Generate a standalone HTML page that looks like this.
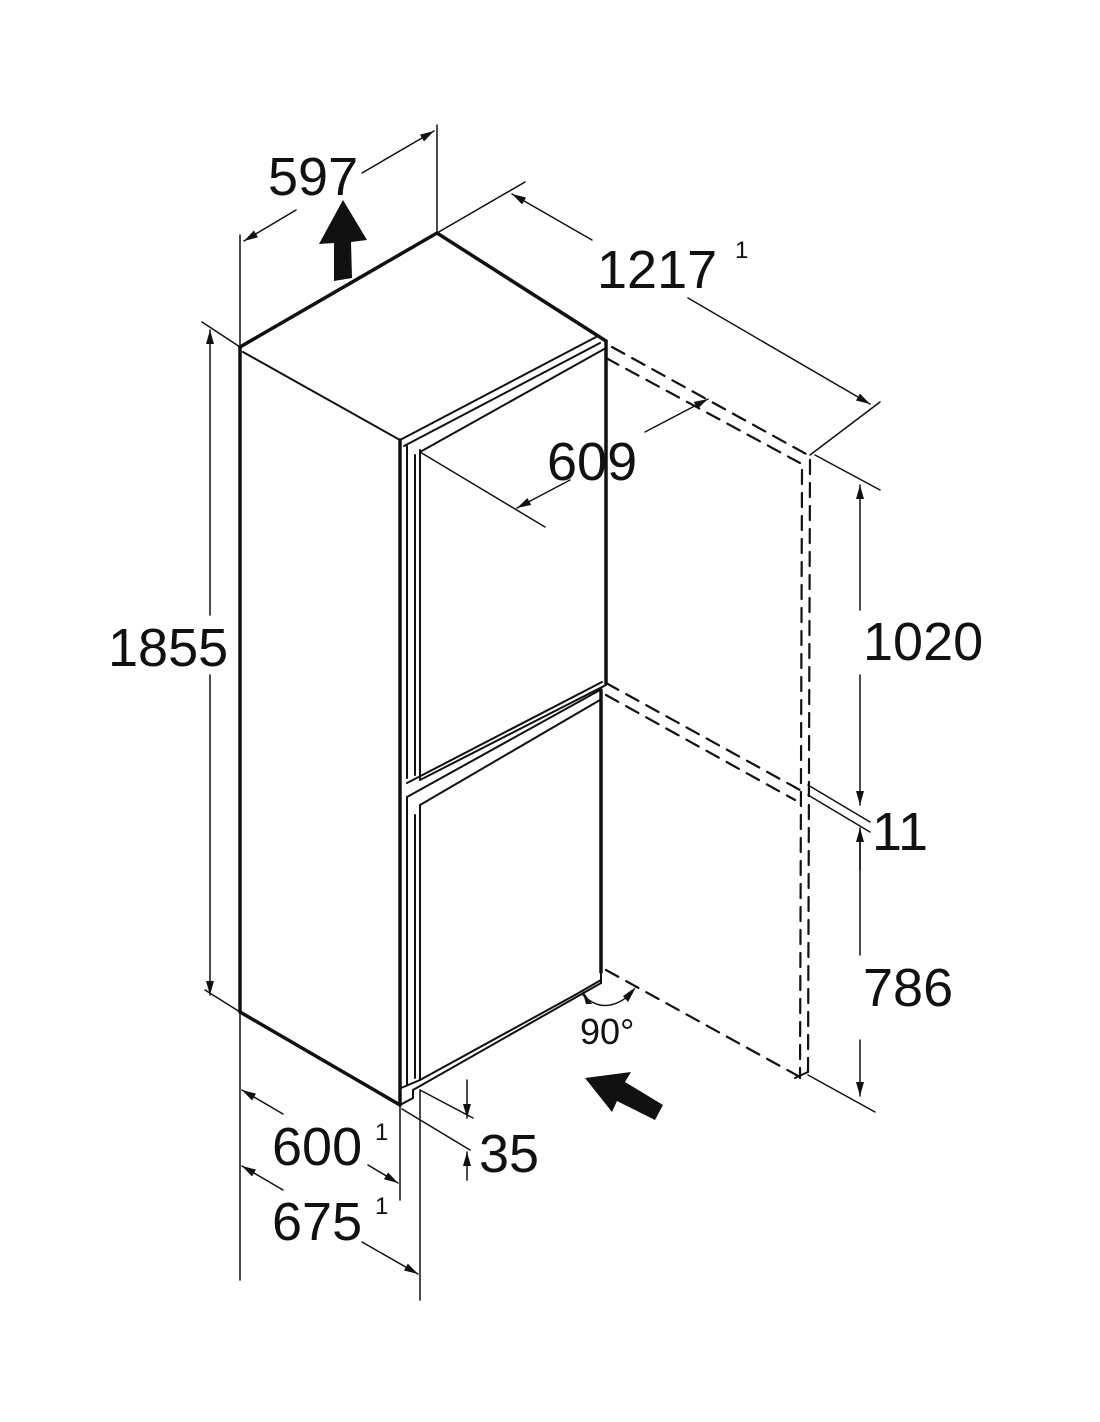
<!DOCTYPE html>
<html><head><style>
html,body{margin:0;padding:0;background:#fff;}
svg{display:block;}
text{font-family:"Liberation Sans",sans-serif;fill:#111;}
</style></head><body>
<svg width="1100" height="1422" viewBox="0 0 1100 1422" xmlns="http://www.w3.org/2000/svg">
<defs>
<marker id="a" markerWidth="14" markerHeight="8" refX="14" refY="4" orient="auto" markerUnits="userSpaceOnUse">
<path d="M0,0 L14,4 L0,8 Z" fill="#111"/></marker>
</defs>
<g stroke="#111" fill="none" stroke-linecap="round">
<g stroke-width="3.5">
<path d="M240,347 L437,233 L606,341"/>
<path d="M240,347 L240,1012 L400,1105"/>
<path d="M606,341 L606,683"/>
<path d="M601,690 L601,972"/>
<path d="M400,440 L400,1105"/>
</g>
<g stroke-width="2">
<path d="M243,352 L400,440"/>
<path d="M400,440 L596,337"/>
<path d="M404,446 L600,343"/>
<path d="M420,452 L606,348"/>
<path d="M407,446 L407,778"/>
<path d="M420,450 L420,780"/>
<path d="M415,455 L415,775"/>
<path d="M407,783 L602,682"/>
<path d="M420,780 L606,685"/>
<path d="M407,797 L600,690"/>
<path d="M420,805 L600,700"/>
<path d="M407,797 L407,1085"/>
<path d="M420,805 L420,1080"/>
<path d="M415,815 L415,1078"/>
<path d="M400,1105 L413,1098 L413,1090 L420,1086 L601,983 L601,972"/>
<path d="M420,1080 L575,995 L601,980"/>
<path d="M401,1088 L420,1080"/>
</g>
<g stroke-width="2.2" stroke-dasharray="14,9">
<path d="M612,347 L808,455"/>
<path d="M606,358 L800,463"/>
<path d="M606,683 L800,790"/>
<path d="M606,695 L795,800"/>
<path d="M606,970 L800,1077"/>
<path d="M802,470 L800,1078"/>
<path d="M810,460 L808,1078"/>
</g>
<path d="M795,1078 L808,1072" stroke-width="2"/>
<g stroke-width="1.5">
<path d="M240,235 L240,347"/>
<path d="M437,125 L437,233"/>
<path d="M296,210 L244,241" marker-end="url(#a)"/>
<path d="M362,173 L434,131" marker-end="url(#a)"/>
<path d="M437,233 L525,182"/>
<path d="M592,240 L512,194" marker-end="url(#a)"/>
<path d="M688,298 L870,404" marker-end="url(#a)"/>
<path d="M810,455 L880,402"/>
<path d="M420,452 L545,527"/>
<path d="M570,480 L517,508" marker-end="url(#a)"/>
<path d="M645,432 L708,399" marker-end="url(#a)"/>
<path d="M202,322 L240,347"/>
<path d="M205,990 L240,1012"/>
<path d="M210,615 L210,330" marker-end="url(#a)"/>
<path d="M210,675 L210,995" marker-end="url(#a)"/>
<path d="M815,455 L880,490"/>
<path d="M860,610 L860,485" marker-end="url(#a)"/>
<path d="M860,675 L860,805" marker-end="url(#a)"/>
<path d="M808,785 L870,822"/>
<path d="M808,795 L870,832"/>
<path d="M860,870 L860,828" marker-end="url(#a)"/>
<path d="M860,1040 L860,1096" marker-end="url(#a)"/>
<path d="M860,955 L860,830"/>
<path d="M808,1075 L875,1112"/>
<path d="M240,1012 L240,1280"/>
<path d="M400,1105 L400,1200"/>
<path d="M420,1090 L420,1300"/>
<path d="M283,1114 L242,1090" marker-end="url(#a)"/>
<path d="M368,1165 L398,1183" marker-end="url(#a)"/>
<path d="M283,1190 L242,1166" marker-end="url(#a)"/>
<path d="M362,1242 L418,1274" marker-end="url(#a)"/>
<path d="M420,1090 L473,1118"/>
<path d="M402,1109 L470,1150"/>
<path d="M467,1080 L467,1118" marker-end="url(#a)"/>
<path d="M467,1180 L467,1152" marker-end="url(#a)"/>
<path d="M583,995 Q605,1017 632,993"/>
</g>
</g>
<path d="M582,990 L592,1004 L586,1004 Z" fill="#111"/>
<path d="M636,987 L628,1002 L623,996 Z" fill="#111"/>
<path d="M334,281 L352,278 L351,242 L367,240 L343,200 L319,244 L334,243 Z" fill="#111"/>
<path d="M663,1105 L625,1082 L631,1072 L585,1078 L612,1112 L617,1101 L655,1120 Z" fill="#111"/>
<g font-size="54">
<text x="268" y="195">597</text>
<text x="597" y="288">1217</text>
<text x="547" y="480">609</text>
<text x="108" y="666">1855</text>
<text x="863" y="660">1020</text>
<text x="872" y="850">11</text>
<text x="863" y="1006">786</text>
<text x="272" y="1165">600</text>
<text x="272" y="1240">675</text>
<text x="479" y="1172">35</text>
</g>
<g font-size="24">
<text x="735" y="258">1</text>
<text x="375" y="1140">1</text>
<text x="375" y="1214">1</text>
</g>
<text x="580" y="1044" font-size="36">90°</text>
</svg>
</body></html>
